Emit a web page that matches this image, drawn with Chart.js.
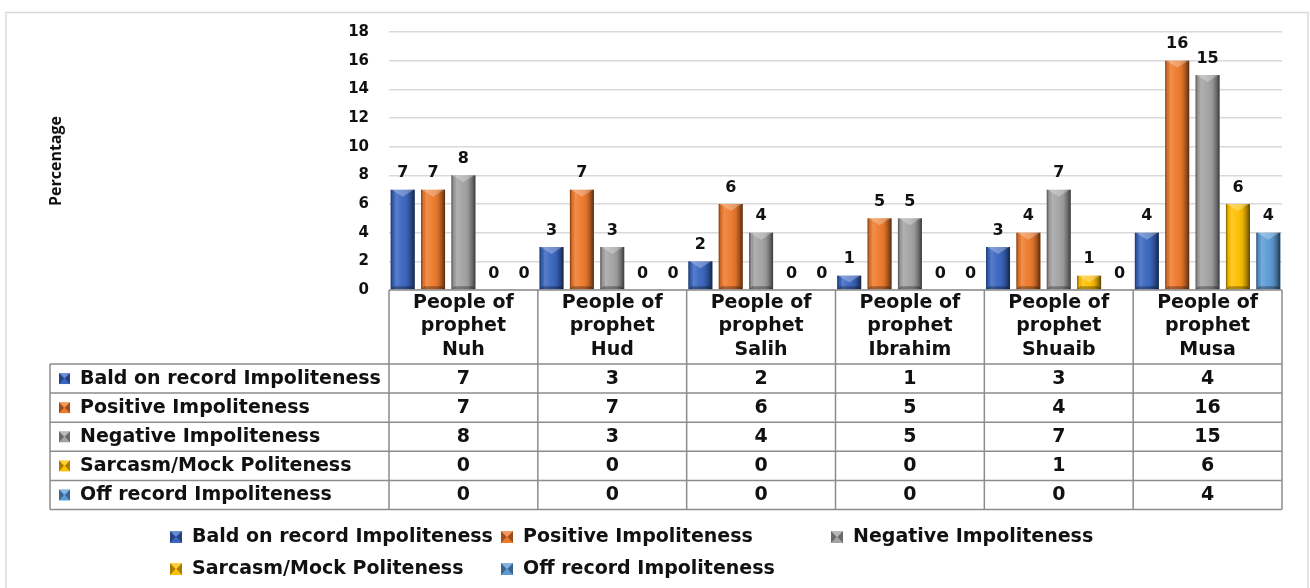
<!DOCTYPE html>
<html>
<head>
<meta charset="utf-8">
<title>Impoliteness strategies by people of the prophets</title>
<script src="https://cdn.jsdelivr.net/npm/chart.js@4.4.1/dist/chart.umd.min.js"></script>
<style>
  html, body { margin: 0; padding: 0; background: #ffffff; }
  canvas { display: block; }
</style>
</head>
<body>
<canvas id="chart" width="1310" height="588"></canvas>
<script>
// Groups (people of each prophet)
const prophets = ['Nuh', 'Hud', 'Salih', 'Ibrahim', 'Shuaib', 'Musa'];
const categoryLines = prophets.map(p => ['People of', 'prophet', p]);

// Series
const seriesNames = [
  'Bald on record Impoliteness',
  'Positive Impoliteness',
  'Negative Impoliteness',
  'Sarcasm/Mock Politeness',
  'Off record Impoliteness'
];
const baldOnRecord = [7, 3, 2, 1, 3, 4];
const positiveImp  = [7, 7, 6, 5, 4, 16];
const negativeImp  = [8, 3, 4, 5, 7, 15];
const sarcasmMock  = [0, 0, 0, 0, 1, 6];
const offRecord    = [0, 0, 0, 0, 0, 4];

// Value axis
const yMin = 0, yMax = 18, yStep = 2;
const yTitle = 'Percentage';

const seriesColors = ['#3A66C0', '#EE7A2C', '#A3A3A3', '#FFC000', '#5B9BD5'];
const seriesValues = [baldOnRecord, positiveImp, negativeImp, sarcasmMock, offRecord];

const FONT = '"DejaVu Sans", Verdana, sans-serif';
const TEXT = '#111111';
const GRID_LINE = '#8c8c8c';

// Layout constants for the data table and legend
const tableLeft = 50;
const headerHeight = 74;
const rowHeight = 29.1;
const legendCols = [170, 501, 831];
const legendRows = [537, 569];

function drawBevelSquare(ctx, x, y, s, color) {
  ctx.fillStyle = color;
  ctx.fillRect(x, y, s, s);
  // darker side facets
  ctx.fillStyle = 'rgba(0,0,0,0.35)';
  ctx.beginPath(); ctx.moveTo(x, y); ctx.lineTo(x + s * 0.45, y + s / 2); ctx.lineTo(x, y + s); ctx.closePath(); ctx.fill();
  ctx.beginPath(); ctx.moveTo(x + s, y); ctx.lineTo(x + s * 0.55, y + s / 2); ctx.lineTo(x + s, y + s); ctx.closePath(); ctx.fill();
  // lighter top facet
  ctx.fillStyle = 'rgba(255,255,255,0.25)';
  ctx.beginPath(); ctx.moveTo(x, y); ctx.lineTo(x + s, y); ctx.lineTo(x + s / 2, y + s * 0.45); ctx.closePath(); ctx.fill();
}

// White background and thin outer frame
const framePlugin = {
  id: 'frame',
  beforeDraw(chart) {
    const ctx = chart.ctx;
    ctx.save();
    ctx.fillStyle = '#ffffff';
    ctx.fillRect(0, 0, chart.width, chart.height);
    ctx.strokeStyle = '#d9d9d9';
    ctx.lineWidth = 1.5;
    ctx.strokeRect(6, 12.5, chart.width - 8, chart.height - 8);
    ctx.restore();
  }
};

// Bevelled bar shading and value labels
const barStylePlugin = {
  id: 'barStyle',
  afterDatasetsDraw(chart) {
    const ctx = chart.ctx;
    ctx.save();
    chart.data.datasets.forEach((ds, di) => {
      const meta = chart.getDatasetMeta(di);
      meta.data.forEach((bar, i) => {
        const { x, y, base, width } = bar.getProps(['x', 'y', 'base', 'width'], true);
        const h = base - y;
        const l = x - width / 2, r = x + width / 2;
        if (h >= 1) {
          const g = ctx.createLinearGradient(l, 0, r, 0);
          g.addColorStop(0, 'rgba(0,0,0,0.50)');
          g.addColorStop(0.1, 'rgba(0,0,0,0.05)');
          g.addColorStop(0.22, 'rgba(255,255,255,0.16)');
          g.addColorStop(0.45, 'rgba(255,255,255,0.04)');
          g.addColorStop(0.7, 'rgba(0,0,0,0.08)');
          g.addColorStop(0.87, 'rgba(0,0,0,0.35)');
          g.addColorStop(1, 'rgba(0,0,0,0.65)');
          ctx.fillStyle = g;
          ctx.fillRect(l, y, width, h);
          const d = Math.min(7, h / 2);
          ctx.fillStyle = 'rgba(255,255,255,0.28)';
          ctx.beginPath();
          ctx.moveTo(l + 1, y); ctx.lineTo(r - 1, y); ctx.lineTo(x, y + d); ctx.closePath();
          ctx.fill();
          const b = Math.min(3, h / 3);
          ctx.fillStyle = 'rgba(0,0,0,0.3)';
          ctx.beginPath();
          ctx.moveTo(l, base); ctx.lineTo(r, base); ctx.lineTo(r - b, base - b); ctx.lineTo(l + b, base - b); ctx.closePath();
          ctx.fill();
        }
        ctx.fillStyle = TEXT;
        ctx.font = 'bold 16px ' + FONT;
        ctx.textAlign = 'center';
        ctx.textBaseline = 'middle';
        ctx.fillText(String(ds.data[i]), x, y - 16.5);
      });
    });
    ctx.restore();
  }
};

// Data table under the plot and the legend at the bottom
const tablePlugin = {
  id: 'dataTable',
  afterDraw(chart) {
    const ctx = chart.ctx;
    const area = chart.chartArea;
    const xs = chart.scales.x;
    const n = prophets.length;
    const colW = (area.right - area.left) / n;
    const headerBottom = area.bottom + headerHeight;
    const tableBottom = headerBottom + rowHeight * seriesNames.length;

    ctx.save();
    ctx.strokeStyle = GRID_LINE;
    ctx.lineWidth = 1.5;
    ctx.beginPath();
    // top of header cells
    ctx.moveTo(area.left, area.bottom); ctx.lineTo(area.right, area.bottom);
    // column separators
    for (let i = 0; i <= n; i++) {
      const cx = area.left + i * colW;
      ctx.moveTo(cx, area.bottom); ctx.lineTo(cx, tableBottom);
    }
    // row label column edge
    ctx.moveTo(tableLeft, headerBottom); ctx.lineTo(tableLeft, tableBottom);
    // row lines
    for (let r = 0; r <= seriesNames.length; r++) {
      const ry = headerBottom + r * rowHeight;
      ctx.moveTo(tableLeft, ry); ctx.lineTo(area.right, ry);
    }
    ctx.stroke();

    ctx.font = 'bold 19px ' + FONT;
    ctx.textBaseline = 'middle';
    seriesNames.forEach((name, r) => {
      const cy = headerBottom + (r + 0.5) * rowHeight;
      drawBevelSquare(ctx, 59, cy - 5.5, 11, seriesColors[r]);
      ctx.fillStyle = TEXT;
      ctx.textAlign = 'left';
      ctx.fillText(name, 80, cy + 0.5);
      ctx.textAlign = 'center';
      seriesValues[r].forEach((v, c) => {
        ctx.fillText(String(v), xs.getPixelForValue(c), cy + 0.5);
      });
    });

    // legend
    seriesNames.forEach((name, k) => {
      const lx = legendCols[k % 3];
      const ly = legendRows[Math.floor(k / 3)];
      drawBevelSquare(ctx, lx, ly - 6, 12, seriesColors[k]);
      ctx.fillStyle = TEXT;
      ctx.textAlign = 'left';
      ctx.fillText(name, lx + 22, ly);
    });
    ctx.restore();
  }
};

const chart = new Chart(document.getElementById('chart'), {
  type: 'bar',
  data: {
    labels: categoryLines,
    datasets: seriesNames.map((name, k) => ({
      label: name,
      data: seriesValues[k],
      backgroundColor: seriesColors[k],
      borderWidth: 0,
      categoryPercentage: 1.02,
      barPercentage: 0.79
    }))
  },
  options: {
    responsive: false,
    animation: false,
    devicePixelRatio: 1,
    layout: { padding: { left: 0, right: 28, top: 32, bottom: 0 } },
    plugins: {
      legend: { display: false },
      tooltip: { enabled: false }
    },
    scales: {
      x: {
        grid: { display: false, drawTicks: false },
        border: { display: false },
        ticks: {
          color: TEXT,
          font: { family: FONT, size: 19, weight: 'bold', lineHeight: 1.24 },
          padding: 1,
          maxRotation: 0,
          autoSkip: false
        },
        afterFit(scale) { scale.height = 298; }
      },
      y: {
        min: yMin,
        max: yMax,
        grid: { color: '#d9d9d9', lineWidth: 1.5, drawTicks: false },
        border: { display: false },
        ticks: {
          stepSize: yStep,
          color: TEXT,
          padding: 20,
          font: { family: FONT, size: 15, weight: 'bold' }
        },
        title: {
          display: true,
          text: yTitle,
          color: TEXT,
          font: { family: '"Open Sans", sans-serif', size: 16, weight: 'bold' },
          padding: { top: 47, bottom: 0 }
        },
        afterFit(scale) { scale.width = 389; }
      }
    }
  },
  plugins: [framePlugin, barStylePlugin, tablePlugin]
});
</script>
</body>
</html>
